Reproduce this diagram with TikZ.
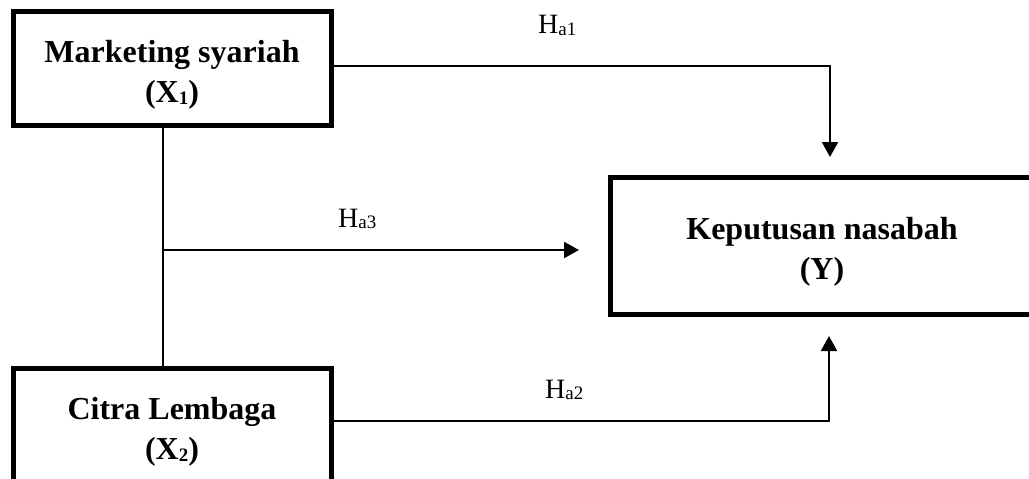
\documentclass[tikz,border=0pt]{standalone}
\usepackage{fontspec}
\setmainfont{Liberation Serif}
\usetikzlibrary{arrows.meta}
\newcommand{\boxsub}[1]{{\fontsize{19}{19}\selectfont\raisebox{-2pt}{#1}}}
\newcommand{\hsub}[1]{{\fontsize{19}{19}\selectfont\raisebox{-1.5pt}{#1}}}
\begin{document}
\begin{tikzpicture}[x=1pt,y=-1pt,
  box/.style={draw, line width=5pt, inner sep=0pt, outer sep=0pt, align=center,
    text height=75pt, font=\fontsize{32}{40}\selectfont\bfseries},
  conn/.style={line width=2pt},
  arr/.style={conn, -{Triangle[length=15pt,width=16pt]}},
  hlabel/.style={inner sep=0pt, anchor=base west, font=\fontsize{28}{30}\selectfont}]
\useasboundingbox (0,0) rectangle (1029,479);
\node[box, minimum width=318pt, minimum height=114pt] (X1) at (172,68) {Marketing syariah\\(X\boxsub{1})};
\node[box, minimum width=318pt, minimum height=114pt] (X2) at (172,425) {Citra Lembaga\\(X\boxsub{2})};
\node[box, minimum width=424pt, minimum height=137pt] (Y) at (822,245.5) {Keputusan nasabah\\(Y)};
\coordinate (t1) at (830,157);
\coordinate (t2) at (829,336);
\coordinate (j) at (163,250);
\coordinate (t3) at (579,250);
\draw[arr] ([yshift=2pt]X1.east) -| (t1);
\draw[arr] ([yshift=4pt]X2.east) -| (t2);
\draw[conn] (X1.south -| j) -- (X2.north -| j);
\draw[arr] (j) -- (t3);
\node[hlabel] (h1) at (538,34) {H\hsub{a1}};
\node[hlabel] (h3) at (338,227) {H\hsub{a3}};
\node[hlabel] (h2) at (545,398) {H\hsub{a2}};
\end{tikzpicture}
\end{document}
